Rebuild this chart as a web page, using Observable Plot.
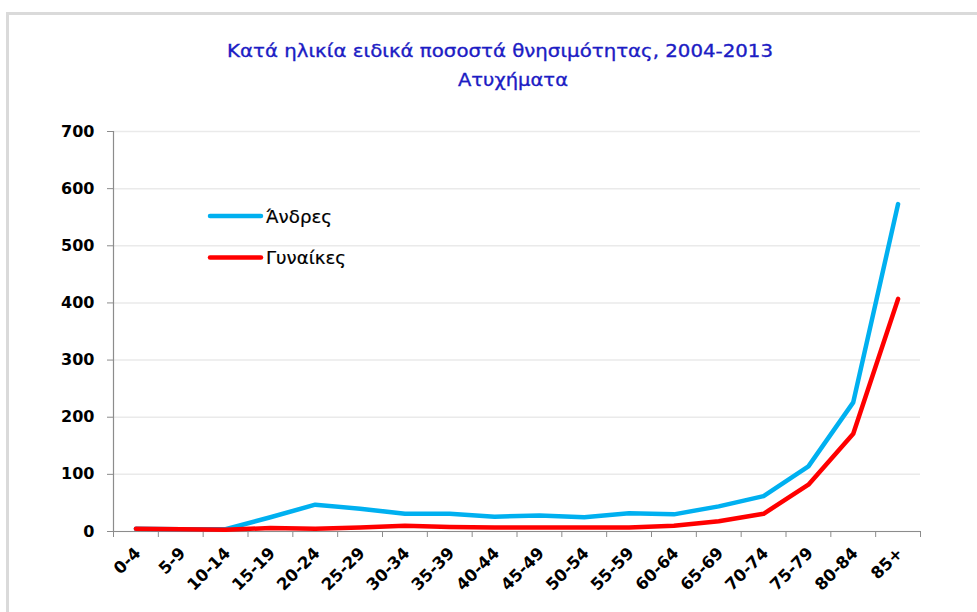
<!DOCTYPE html>
<html>
<head>
<meta charset="utf-8">
<script src="https://cdn.jsdelivr.net/npm/d3@7"></script>
<script src="https://cdn.jsdelivr.net/npm/@observablehq/plot@0.6"></script>
<style>
  html, body { margin: 0; padding: 0; background: #fff; }
  #wrap { position: relative; width: 977px; height: 612px; overflow: hidden; background: #fff; font-family: "DejaVu Sans", sans-serif; }
  #frame { position: absolute; left: 6px; top: 12px; width: 990px; height: 640px; border-left: 3px solid #dadada; border-top: 3px solid #dadada; }
  #chart { position: absolute; left: 0; top: 0; }
  #overlay { position: absolute; left: 0; top: 0; pointer-events: none; }
</style>
</head>
<body>
<div id="wrap">
  <div id="frame"></div>
  <div id="chart"></div>
  <svg id="overlay" width="977" height="612"></svg>
</div>
<script>
const categories = ["0-4","5-9","10-14","15-19","20-24","25-29","30-34","35-39","40-44","45-49","50-54","55-59","60-64","65-69","70-74","75-79","80-84","85+"];
const men   = [5, 4, 4, 25, 47, 40, 31, 31, 26, 28, 25, 32, 30, 44, 62, 114, 226, 573];
const women = [5, 4, 3, 6, 5, 7, 10, 8, 7, 7, 7, 7, 10, 18, 31, 82, 171, 407];
const yTicks = [0, 100, 200, 300, 400, 500, 600, 700];
const seriesNames = ["Άνδρες", "Γυναίκες"];
const seriesColors = ["#00b0f0", "#ff0000"];
const titleLines = ["Κατά ηλικία ειδικά ποσοστά θνησιμότητας, 2004-2013", "Ατυχήματα"];

const idx = categories.map((c, i) => i);
const menRows = categories.map((c, i) => ({i, c, v: men[i]}));
const womenRows = categories.map((c, i) => ({i, c, v: women[i]}));

const axisGray = "#8c8c8c";
const chart = Plot.plot({
  width: 977,
  height: 612,
  marginLeft: 113,
  marginRight: 57,
  marginTop: 131,
  marginBottom: 81,
  style: {fontFamily: "'DejaVu Sans', sans-serif", background: "transparent", color: "#000"},
  x: {type: "linear", domain: [-0.5, categories.length - 0.5]},
  y: {domain: [0, 700]},
  marks: [
    Plot.gridY(yTicks, {stroke: "#eaeaea", strokeOpacity: 1, strokeWidth: 1.5}),
    Plot.axisY({ticks: yTicks, tickSize: 6, tickPadding: 13, stroke: axisGray, fill: "#000", fontWeight: "bold", fontSize: 16, label: null}),
    Plot.axisX({ticks: d3.range(-0.5, categories.length, 1), tickSize: 6, tickFormat: () => "", stroke: axisGray, label: null}),
    Plot.axisX({ticks: idx, tickSize: 0, tickPadding: 19, tickRotate: -45, tickFormat: i => categories[i], fill: "#000", fontWeight: "bold", fontSize: 16.5, dx: 2, label: null}),
    Plot.ruleY([0], {stroke: axisGray, strokeWidth: 1.2}),
    Plot.ruleX([-0.5], {stroke: axisGray, strokeWidth: 1.2}),
    Plot.line(menRows, {x: "i", y: "v", stroke: seriesColors[0], strokeWidth: 4.5, strokeLinejoin: "round", strokeLinecap: "round"}),
    Plot.line(womenRows, {x: "i", y: "v", stroke: seriesColors[1], strokeWidth: 4.5, strokeLinejoin: "round", strokeLinecap: "round"})
  ]
});
document.getElementById("chart").appendChild(chart);

// titles and legend
const ov = d3.select("#overlay");
const titleColor = "#1c1cc4";
ov.append("text").attr("x", 227).attr("y", 57).attr("textLength", 546).attr("lengthAdjust", "spacingAndGlyphs")
  .attr("fill", titleColor).attr("stroke", titleColor).attr("stroke-width", 0.35)
  .attr("font-size", 18).attr("font-family", "DejaVu Sans, sans-serif").text(titleLines[0]);
ov.append("text").attr("x", 458).attr("y", 86).attr("textLength", 110).attr("lengthAdjust", "spacingAndGlyphs")
  .attr("fill", titleColor).attr("stroke", titleColor).attr("stroke-width", 0.35)
  .attr("font-size", 18).attr("font-family", "DejaVu Sans, sans-serif").text(titleLines[1]);

const legendY = [216, 257.5];
const legendW = [66, 80];
seriesNames.forEach((name, k) => {
  ov.append("line").attr("x1", 210).attr("x2", 261).attr("y1", legendY[k]).attr("y2", legendY[k])
    .attr("stroke", seriesColors[k]).attr("stroke-width", 4.5).attr("stroke-linecap", "round");
  ov.append("text").attr("x", 266).attr("y", legendY[k] + 6.5).attr("textLength", legendW[k]).attr("lengthAdjust", "spacingAndGlyphs")
    .attr("fill", "#000").attr("stroke", "#000").attr("stroke-width", 0.2)
    .attr("font-size", 17).attr("font-family", "DejaVu Sans, sans-serif").text(name);
});
</script>
</body>
</html>
